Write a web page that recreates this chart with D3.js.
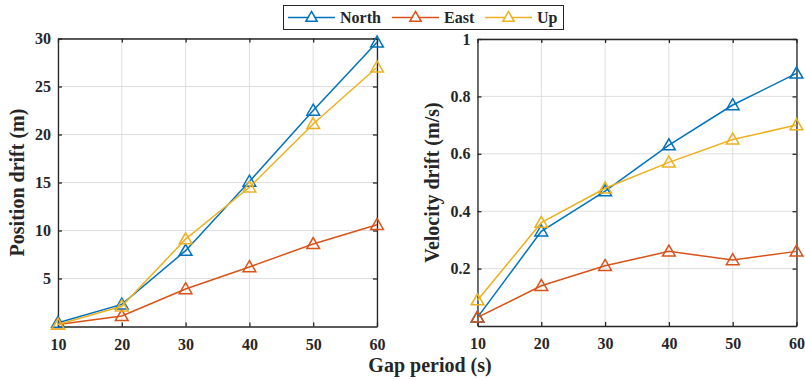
<!DOCTYPE html>
<html>
<head>
<meta charset="utf-8">
<script src="https://cdn.jsdelivr.net/npm/d3@7"></script>
<style>
  body { margin: 0; background: #fff; }
</style>
</head>
<body>
<div id="chart"></div>
<script>
// gap periods (s)
const gapPeriods = [10, 20, 30, 40, 50, 60];
const seriesNames = ["North", "East", "Up"];
const seriesColors = ["#0072BD", "#D95319", "#EDB120"];

// position drift (m)
const posNorth = [0.4, 2.3, 7.9, 15.1, 22.5, 29.6];
const posEast = [0.2, 1.1, 3.9, 6.2, 8.6, 10.6];
const posUp = [0.2, 2.1, 9.1, 14.5, 21.1, 27.0];

// velocity drift (m/s)
const velNorth = [0.03, 0.33, 0.47, 0.63, 0.77, 0.88];
const velEast = [0.03, 0.14, 0.21, 0.26, 0.23, 0.26];
const velUp = [0.09, 0.36, 0.48, 0.57, 0.65, 0.70];

const posTicks = [5, 10, 15, 20, 25, 30];
const velTicks = [0.2, 0.4, 0.6, 0.8, 1];

const FONT = "Liberation Serif";
const width = 805, height = 380;
const svg = d3.select("#chart").append("svg")
    .attr("width", width)
    .attr("height", height)
    .attr("font-family", FONT)
    .attr("font-weight", "bold");

function drawPanel(opts) {
    let g = svg.append("g").attr("transform", "translate(" + opts.left + "," + opts.top + ")");
    let w = opts.width, h = opts.height;

    let x = d3.scaleLinear().domain([10, 60]).range([0, w]);
    let y = d3.scaleLinear().domain(opts.yDomain).range([h, 0]);

    // grid
    g.selectAll(".vgrid").data(gapPeriods).enter().append("line")
        .attr("x1", d => x(d)).attr("x2", d => x(d))
        .attr("y1", 0).attr("y2", h)
        .attr("stroke", "#dfdfdf").attr("stroke-width", 1);
    g.selectAll(".hgrid").data(opts.yTicks).enter().append("line")
        .attr("x1", 0).attr("x2", w)
        .attr("y1", d => y(d)).attr("y2", d => y(d))
        .attr("stroke", "#dfdfdf").attr("stroke-width", 1);

    // axes, ticks inside, box all round
    let xAxis = d3.axisBottom(x).tickValues(gapPeriods).tickSizeInner(-4).tickSizeOuter(0).tickPadding(12);
    let yAxis = d3.axisLeft(y).tickValues(opts.yTicks).tickSizeInner(-4).tickSizeOuter(0).tickPadding(7)
        .tickFormat(opts.fmt);

    let gx = g.append("g").attr("transform", "translate(0," + h + ")").call(xAxis);
    let gy = g.append("g").call(yAxis);
    let gxt = g.append("g").call(d3.axisTop(x).tickValues(gapPeriods).tickSizeInner(-4).tickSizeOuter(0).tickFormat(""));
    let gyr = g.append("g").attr("transform", "translate(" + w + ",0)")
        .call(d3.axisRight(y).tickValues(opts.yTicks).tickSizeInner(-4).tickSizeOuter(0).tickFormat(""));

    [gx, gy, gxt, gyr].forEach(a => {
        a.attr("font-family", FONT).attr("font-size", 16);
        a.select(".domain").attr("stroke", "#262626").attr("stroke-width", 1.3);
        a.selectAll(".tick line").attr("stroke", "#262626").attr("stroke-width", 1.3);
        a.selectAll("text").attr("fill", "#262626");
    });

    // y label
    g.append("text")
        .attr("transform", "translate(" + opts.yLabelX + "," + (h / 2) + ") rotate(-90)")
        .attr("text-anchor", "middle")
        .attr("font-size", 20)
        .attr("fill", "#262626")
        .text(opts.yLabel);

    let line = d3.line().x((d, i) => x(gapPeriods[i])).y(d => y(d));
    let tri = d3.symbol().type(d3.symbolTriangle).size(70);

    opts.series.forEach((vals, k) => {
        g.append("path")
            .attr("d", line(vals))
            .attr("fill", "none")
            .attr("stroke", seriesColors[k])
            .attr("stroke-width", 1.5);
        g.selectAll(".m" + k).data(vals).enter().append("path")
            .attr("d", tri)
            .attr("transform", (d, i) => "translate(" + x(gapPeriods[i]) + "," + (y(d) + 1) + ")")
            .attr("fill", "none")
            .attr("stroke", seriesColors[k])
            .attr("stroke-width", 1.5);
    });
}

drawPanel({
    left: 58, top: 38.5, width: 319, height: 288,
    yDomain: [0, 30], yTicks: posTicks, fmt: d3.format("d"),
    yLabel: "Position drift (m)", yLabelX: -34,
    series: [posNorth, posEast, posUp]
});

drawPanel({
    left: 477.5, top: 39, width: 319, height: 287,
    yDomain: [0, 1], yTicks: velTicks, fmt: d => d === 1 ? "1" : d3.format(".1f")(d),
    yLabel: "Velocity drift (m/s)", yLabelX: -39,
    series: [velNorth, velEast, velUp]
});

// x label
svg.append("text")
    .attr("x", 430).attr("y", 372)
    .attr("text-anchor", "middle")
    .attr("font-size", 20)
    .attr("fill", "#262626")
    .text("Gap period (s)");

// legend
let legend = svg.append("g");
legend.append("rect")
    .attr("x", 283.5).attr("y", 5.5).attr("width", 280).attr("height", 24)
    .attr("fill", "#fff").attr("stroke", "#262626").attr("stroke-width", 1);
let legendX = [288, 392, 485];
let legendTri = d3.symbol().type(d3.symbolTriangle).size(55);
seriesNames.forEach((name, k) => {
    let lx = legendX[k];
    legend.append("line")
        .attr("x1", lx).attr("x2", lx + 47)
        .attr("y1", 17.5).attr("y2", 17.5)
        .attr("stroke", seriesColors[k]).attr("stroke-width", 1.5);
    legend.append("path")
        .attr("d", legendTri)
        .attr("transform", "translate(" + (lx + 23.5) + ",18)")
        .attr("fill", "#fff").attr("stroke", seriesColors[k]).attr("stroke-width", 1.5);
    legend.append("text")
        .attr("x", lx + 52).attr("y", 23)
        .attr("font-size", 16)
        .attr("fill", "#262626")
        .text(name);
});
</script>
</body>
</html>
